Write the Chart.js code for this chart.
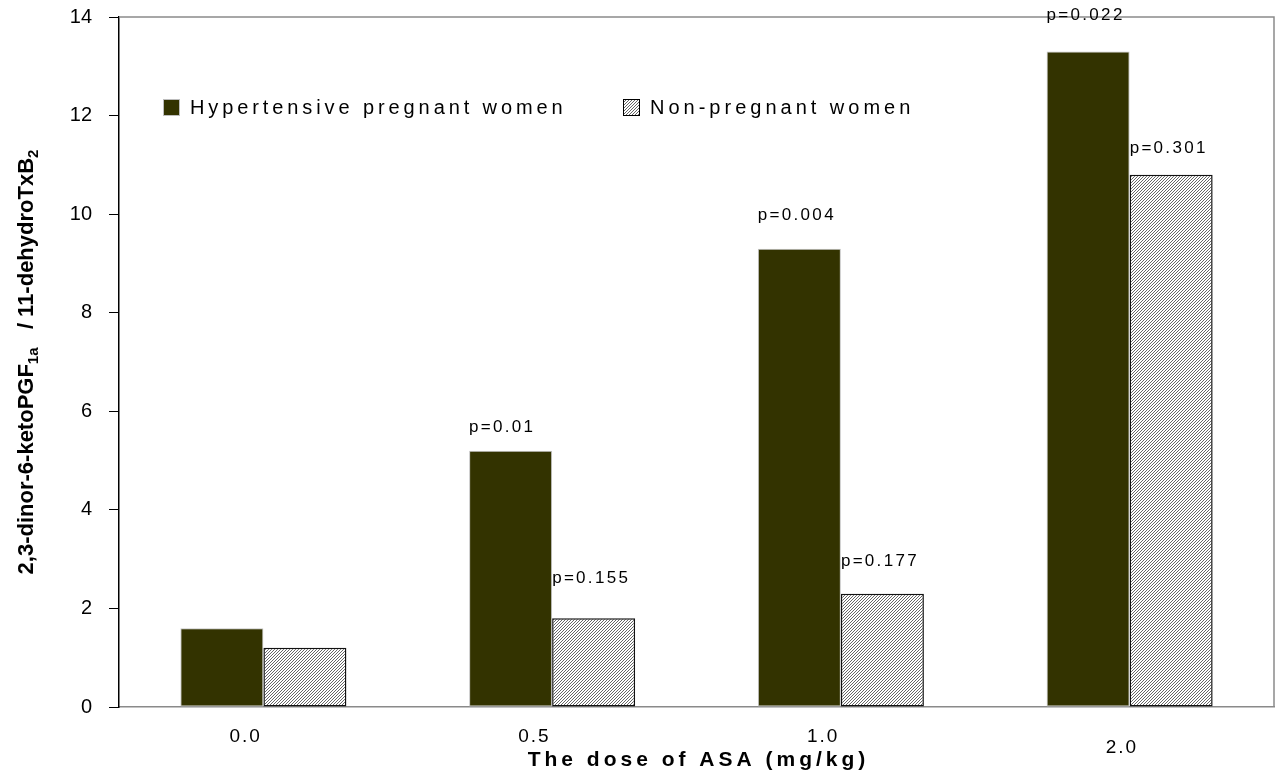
<!DOCTYPE html>
<html>
<head>
<meta charset="utf-8">
<script src="https://cdn.jsdelivr.net/npm/chart.js@4/dist/chart.umd.min.js"></script>
<style>
  html, body { margin: 0; padding: 0; background: #fff; }
  #wrap { width: 1276px; height: 777px; position: relative; }
</style>
</head>
<body>
<div id="wrap"><canvas id="chart"></canvas></div>
<script>
// Doses of ASA (mg/kg)
const doses = ['0.0', '0.5', '1.0', '2.0'];

// Urinary metabolite ratio per group
const hypertensive = [1.6, 5.2, 9.3, 13.3];
const nonPregnant = [1.2, 1.8, 2.3, 10.8];

// p-values printed above the bars
const pHypertensive = ['', 'p=0.01', 'p=0.004', 'p=0.022'];
const pNonPregnant = ['', 'p=0.155', 'p=0.177', 'p=0.301'];

const seriesNames = ['Hypertensive pregnant women', 'Non-pregnant women'];
const yTicks = [0, 2, 4, 6, 8, 10, 12, 14];

const FONT = 'Arial, "Liberation Sans", sans-serif';
const OLIVE = '#333300';

// how far each p-value sits above its bar (px)
const pLift = [
    [0, 23, 33, 36],
    [0, 40, 32, 26]
];

// diagonal fine hatch for the second series
function makeHatch() {
    const c = document.createElement('canvas');
    c.width = 3; c.height = 3;
    const g = c.getContext('2d');
    g.fillStyle = '#ffffff';
    g.fillRect(0, 0, 3, 3);
    g.fillStyle = '#666666';
    for (let x = 0; x < 3; x++) {
        for (let y = 0; y < 3; y++) {
            if ((x + y) % 3 === 2) g.fillRect(x, y, 1, 1);
        }
    }
    return g.createPattern(c, 'repeat');
}

const hatch = makeHatch();

function spacedText(ctx, text, x, y, spacing) {
    ctx.letterSpacing = spacing + 'px';
    ctx.fillText(text, x, y);
    ctx.letterSpacing = '0px';
}

// frame, legend, axis titles, category labels and p-values
const decorations = {
    id: 'decorations',
    afterDatasetsDraw(chart) {
        const ctx = chart.ctx;
        const area = chart.chartArea;
        const xs = chart.scales.x;
        ctx.save();

        // grey frame on top and right
        ctx.strokeStyle = '#8a8a8a';
        ctx.lineWidth = 1.5;
        ctx.beginPath();
        ctx.moveTo(area.left, area.top);
        ctx.lineTo(area.right, area.top);
        ctx.lineTo(area.right, area.bottom);
        ctx.stroke();

        ctx.fillStyle = '#000';
        ctx.textBaseline = 'middle';

        // p-values
        ctx.font = '17px ' + FONT;
        ctx.textAlign = 'left';
        [pHypertensive, pNonPregnant].forEach((labels, di) => {
            const meta = chart.getDatasetMeta(di);
            meta.data.forEach((bar, i) => {
                if (!labels[i]) return;
                const left = bar.x - bar.width / 2;
                spacedText(ctx, labels[i], left, bar.y - pLift[di][i], 2.3);
            });
        });

        // category labels (the last one sits a bit lower)
        ctx.font = '19px ' + FONT;
        doses.forEach((d, i) => {
            const cx = xs.getPixelForValue(i);
            const last = i === doses.length - 1;
            spacedText(ctx, d, cx - (last ? 24 : 34), area.bottom + (last ? 41 : 30), 2);
        });

        // x axis title
        ctx.font = 'bold 21px ' + FONT;
        ctx.textAlign = 'center';
        spacedText(ctx, 'The dose of ASA (mg/kg)', (area.left + area.right) / 2 + 2, 760, 4);

        // legend
        ctx.textAlign = 'left';
        ctx.font = '20px ' + FONT;
        const legendY = 107;
        const legendItems = [
            { x: 163, fill: OLIVE, stroke: '#bdbdbd', spacing: 3.9 },
            { x: 623, fill: hatch, stroke: '#000', spacing: 4 }
        ];
        legendItems.forEach((it, i) => {
            ctx.fillStyle = it.fill;
            ctx.fillRect(it.x, legendY - 8, 17, 17);
            ctx.strokeStyle = it.stroke;
            ctx.lineWidth = 1;
            ctx.strokeRect(it.x + 0.5, legendY - 7.5, 16, 16);
            ctx.fillStyle = '#000';
            spacedText(ctx, seriesNames[i], it.x + 27, legendY + 1, it.spacing);
        });

        // y axis title with subscripts
        ctx.save();
        ctx.translate(27, (area.top + area.bottom) / 2);
        ctx.rotate(-Math.PI / 2);
        const parts = [
            { t: '2,3-dinor-6-ketoPGF', sub: false },
            { t: '1a', sub: true },
            { t: '   / 11-dehydroTxB', sub: false },
            { t: '2', sub: true }
        ];
        const fontMain = 'bold 22px ' + FONT;
        const fontSub = 'bold 15px ' + FONT;
        let total = 0;
        parts.forEach(p => {
            ctx.font = p.sub ? fontSub : fontMain;
            p.w = ctx.measureText(p.t).width;
            total += p.w;
        });
        let px = -total / 2;
        ctx.textAlign = 'left';
        ctx.fillStyle = '#000';
        parts.forEach(p => {
            ctx.font = p.sub ? fontSub : fontMain;
            ctx.fillText(p.t, px, p.sub ? 7 : 0);
            px += p.w;
        });
        ctx.restore();

        ctx.restore();
    }
};

const ctx = document.getElementById('chart').getContext('2d');
new Chart(ctx, {
    type: 'bar',
    data: {
        labels: doses,
        datasets: [{
            label: seriesNames[0],
            data: hypertensive,
            backgroundColor: OLIVE,
            borderColor: '#c4c4c4',
            borderWidth: 1,
            borderSkipped: false
        }, {
            label: seriesNames[1],
            data: nonPregnant,
            backgroundColor: hatch,
            borderColor: '#111',
            borderWidth: 1.5,
            borderSkipped: false
        }]
    },
    options: {
        responsive: true,
        maintainAspectRatio: false,
        animation: false,
        datasets: {
            bar: { categoryPercentage: 0.575, barPercentage: 1.0 }
        },
        layout: { padding: { top: 17, right: 2, left: 0, bottom: 0 } },
        scales: {
            x: {
                grid: { display: false, drawTicks: false },
                border: { color: '#8a8a8a', width: 1.5 },
                ticks: { display: false },
                afterFit(scale) { scale.height = 70; }
            },
            y: {
                min: 0,
                max: 14,
                afterBuildTicks(scale) { scale.ticks = yTicks.map(v => ({ value: v })); },
                grid: { drawOnChartArea: false, drawTicks: true, tickLength: 10, color: '#000', lineWidth: 1 },
                border: { color: '#000', width: 1.5 },
                ticks: {
                    color: '#000',
                    padding: 17,
                    font: { family: FONT, size: 20 }
                },
                afterFit(scale) {
                    scale.width = 119;
                    // the top tick label may overhang; keep the plot top fixed
                    scale.paddingTop = 0;
                    scale.paddingBottom = 0;
                }
            }
        },
        plugins: {
            legend: { display: false },
            tooltip: { enabled: false }
        }
    },
    plugins: [decorations]
});
</script>
</body>
</html>
